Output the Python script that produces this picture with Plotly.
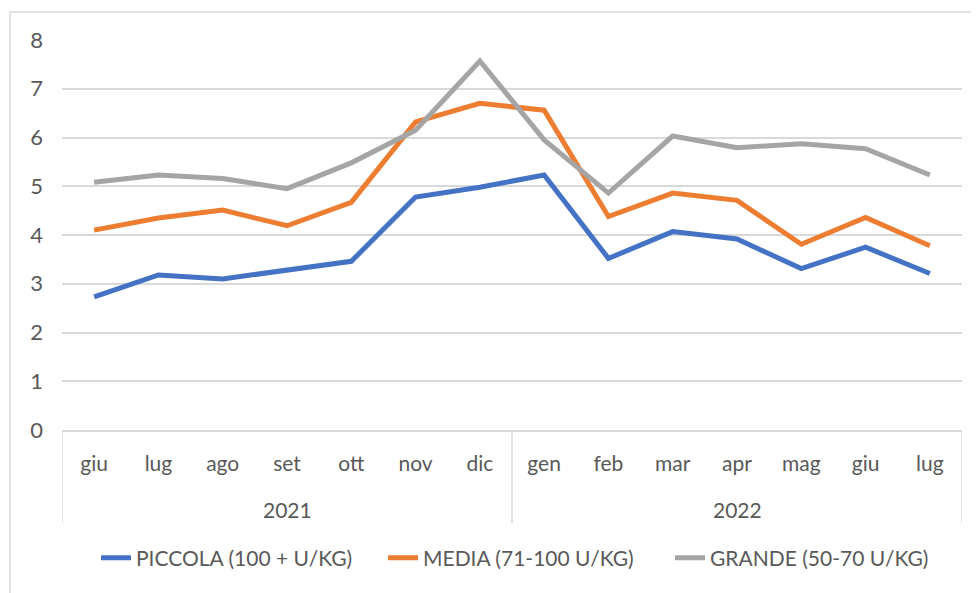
import plotly.graph_objects as go

years = ["2021", "2022"]
year_lengths = [7, 7]
months = ["giu", "lug", "ago", "set", "ott", "nov", "dic",
          "gen", "feb", "mar", "apr", "mag", "giu", "lug"]

piccola = [2.73, 3.18, 3.10, 3.29, 3.46, 4.78, 4.98, 5.23, 3.52, 4.07, 3.92, 3.31, 3.75, 3.21]
media = [4.10, 4.35, 4.51, 4.19, 4.67, 6.32, 6.70, 6.56, 4.38, 4.86, 4.71, 3.81, 4.36, 3.78]
grande = [5.08, 5.23, 5.16, 4.95, 5.48, 6.15, 7.57, 5.95, 4.86, 6.03, 5.79, 5.87, 5.77, 5.23]

series = [
    ("PICCOLA (100 + U/KG)", piccola, "#4472C4"),
    ("MEDIA (71-100 U/KG)", media, "#ED7D31"),
    ("GRANDE (50-70 U/KG)", grande, "#A5A5A5"),
]

FONT = "Lato, Liberation Sans, Arial, sans-serif"
TXT = "#595959"
GRID = "#d9d9d9"

idx = list(range(len(months)))

fig = go.Figure()
for name, vals, col in series:
    fig.add_trace(go.Scatter(
        x=idx, y=vals, name=name, mode="lines",
        line=dict(color=col, width=5),
    ))

# page-pixel layout (page body adds an 8px offset)
OFF = 8
W, H = 979, 593
PL, PR, PT, PB = 62, 962, 40, 430   # plot area in page pixels
L, T = PL - OFF, PT - OFF
R, B = W - (PR - OFF), H - (PB - OFF)
pw, ph = PR - PL, PB - PT

def px(X):
    return (X - PL) / pw

def py(Y):
    return (PB - Y) / ph

shapes = [dict(type="rect", xref="paper", yref="paper",
               x0=px(10), x1=px(990), y0=py(600), y1=py(12),
               line=dict(color=GRID, width=1.5), layer="below")]
annotations = []
start = -0.5
bounds = [start]
for yr, n in zip(years, year_lengths):
    end = start + n
    annotations.append(dict(x=(start + end) / 2, xref="x", y=py(509), yref="paper",
                            text=yr, showarrow=False, yanchor="middle",
                            font=dict(family=FONT, size=21, color=TXT)))
    bounds.append(end)
    start = end
for b in bounds:
    shapes.append(dict(type="line", xref="x", yref="paper", x0=b, x1=b,
                       y0=0, y1=py(523), line=dict(color=GRID, width=1.5)))

fig.update_layout(
    width=W, height=H,
    margin=dict(l=L, r=R, t=T, b=B),
    paper_bgcolor="white", plot_bgcolor="white",
    font=dict(family=FONT, color=TXT, size=21),
    showlegend=True,
    legend=dict(orientation="h", x=px(96), xanchor="left", y=py(558), yanchor="middle",
                font=dict(size=21, color=TXT), itemwidth=30, tracegroupgap=0,
                entrywidth=242),
    xaxis=dict(
        range=[-0.5, len(months) - 0.5], tickvals=idx, ticktext=months,
        showgrid=False, zeroline=False,
        showline=True, linecolor=GRID, linewidth=1.5,
        ticks="", tickfont=dict(size=21, color=TXT), ticklabelstandoff=14,
    ),
    yaxis=dict(
        range=[0, 8], dtick=1, showgrid=True, gridcolor=GRID, gridwidth=1.5,
        zeroline=False, showline=False, ticks="",
        tickfont=dict(size=22, color=TXT), ticklabelstandoff=18,
    ),
    shapes=shapes,
    annotations=annotations,
)

fig.write_html("out.html")
